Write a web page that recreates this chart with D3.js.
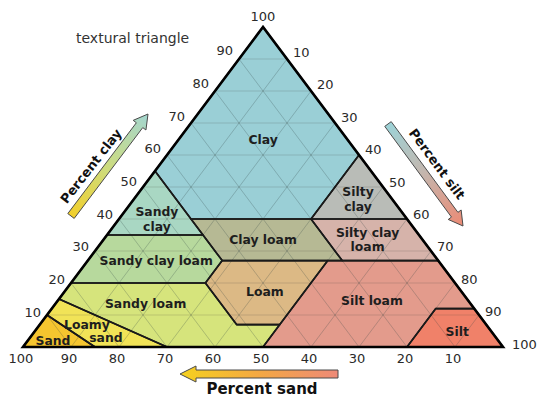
<!DOCTYPE html>
<html>
<head>
<meta charset="utf-8">
<script src="https://cdn.jsdelivr.net/npm/d3@7"></script>
<style>
  html, body { margin: 0; padding: 0; background: #fff; }
  svg { display: block; }
</style>
</head>
<body>
<svg id="chart" width="549" height="403"></svg>
<script>
// ---------- DATA ----------
// Soil texture classes (USDA); vertices as [sand, silt, clay] percentages
const regionNames = ["Clay", "Sandy clay", "Silty clay", "Clay loam", "Silty clay loam",
  "Sandy clay loam", "Loam", "Silt loam", "Silt", "Sandy loam", "Loamy sand", "Sand"];
const regionVertices = [
  [[0,0,100],[45,0,55],[45,15,40],[20,40,40],[0,40,60]],
  [[45,0,55],[65,0,35],[45,20,35],[45,15,40]],
  [[0,40,60],[20,40,40],[0,60,40]],
  [[45,15,40],[20,40,40],[20,53,27],[45,28,27]],
  [[20,40,40],[0,60,40],[0,73,27],[20,53,27]],
  [[65,0,35],[45,20,35],[45,28,27],[52,28,20],[80,0,20]],
  [[45,28,27],[23,50,27],[43,50,7],[52,41,7],[52,28,20]],
  [[23,50,27],[0,73,27],[0,88,12],[8,80,12],[20,80,0],[50,50,0],[43,50,7]],
  [[8,80,12],[0,88,12],[0,100,0],[20,80,0]],
  [[80,0,20],[52,28,20],[52,41,7],[43,50,7],[50,50,0],[70,30,0],[85,0,15]],
  [[85,0,15],[70,30,0],[85,15,0],[90,0,10]],
  [[90,0,10],[85,15,0],[100,0,0]]
];
const regionColors = ["#9acfd6","#a9d7c3","#b9bcb7","#b6b994","#d6b3aa",
  "#b7d99d","#dcb985","#e39b8c","#f08169","#d6e47c","#f1e357","#f5c52f"];
// label anchor of each class as [silt, clay]; multi-line labels split by "|"
const regionLabels = ["Clay","Sandy|clay","Silty|clay","Clay loam","Silty clay|loam",
  "Sandy clay loam","Loam","Silt loam","Silt","Sandy loam","Loamy|sand","Sand"];
const labelAnchors = [[17.7,64.7],[7.9,40],[46.7,46.2],[33.3,33.4],[55.0,33.6],
  [14.3,26.9],[41.8,17.2],[65.5,14.4],[88.1,4.7],[18.7,13.7],[12.7,5.0],[5.3,1.9]];
const tickValues = [10,20,30,40,50,60,70,80,90,100];
const gridValues = [10,20,30,40,50,60,70,80,90];

// ---------- SCALES ----------
const svg = d3.select("#chart");
const xScale = d3.scaleLinear().domain([0,100]).range([23,503]);   // silt + clay/2
const yScale = d3.scaleLinear().domain([0,100]).range([347,27]);   // clay
const P = (silt, clay) => [xScale(silt + clay/2), yScale(clay)];
const PV = v => P(v[1], v[2]);
const line = d3.line();

// ---------- DEFS (gradients) ----------
const defs = svg.append("defs");
function grad(id, x1,y1,x2,y2, stops){
  const g = defs.append("linearGradient").attr("id", id)
    .attr("gradientUnits","userSpaceOnUse")
    .attr("x1",x1).attr("y1",y1).attr("x2",x2).attr("y2",y2);
  stops.forEach(s => g.append("stop").attr("offset", s[0]).attr("stop-color", s[1]));
}

// ---------- REGIONS ----------
svg.append("g").selectAll("path").data(regionVertices).join("path")
  .attr("d", d => line(d.map(PV)) + "Z")
  .attr("fill", (d,i) => regionColors[i])
  .attr("stroke", "none");

// ---------- GRID ----------
const grid = svg.append("g").attr("fill","none");
gridValues.forEach(v => {
  // constant clay (horizontal)
  grid.append("path").attr("d", line([P(0,v), P(100-v,v)]))
    .attr("stroke","rgba(70,70,60,0.2)").attr("stroke-width",1.2);
  // constant silt
  grid.append("path").attr("d", line([P(v,0), P(v,100-v)]))
    .attr("stroke","rgba(50,70,70,0.33)").attr("stroke-width",0.8);
  // constant sand
  grid.append("path").attr("d", line([P(100-v,0), P(0,100-v)]))
    .attr("stroke","rgba(50,70,70,0.33)").attr("stroke-width",0.8);
});

// ---------- BOUNDARIES ----------
svg.append("g").selectAll("path").data(regionVertices).join("path")
  .attr("d", d => line(d.map(PV)) + "Z")
  .attr("fill", "none")
  .attr("stroke", "#1a1a1a")
  .attr("stroke-width", 1.6)
  .attr("stroke-linejoin","round");

svg.append("path")
  .attr("d", line([P(0,100), P(0,0), P(100,0)]) + "Z")
  .attr("fill","none").attr("stroke","#000").attr("stroke-width",2.6)
  .attr("stroke-linejoin","miter");

// ---------- REGION LABELS ----------
const lab = svg.append("g")
  .attr("font-family","'DejaVu Sans', Verdana, sans-serif")
  .attr("font-weight","bold").attr("font-size",12.4).attr("fill","#1e1e1e")
  .attr("text-anchor","middle");
regionLabels.forEach((t,i) => {
  const [cx, cy] = P(labelAnchors[i][0], labelAnchors[i][1]);
  const parts = t.split("|");
  const spacing = t === "Loamy|sand" ? 13 : 14.5;
  parts.forEach((p,k) => {
    let dx = 0;
    if (t === "Loamy|sand") dx = k === 0 ? -9 : 10;
    lab.append("text").attr("x", cx + dx)
      .attr("y", cy + (k - (parts.length-1)/2) * spacing)
      .attr("dy","0.35em").text(p);
  });
});

// ---------- TICK LABELS ----------
const tk = svg.append("g")
  .attr("font-family","'DejaVu Sans', Verdana, sans-serif")
  .attr("font-size",13).attr("fill","#2a2a2a");
// clay (left edge)
tickValues.forEach(v => {
  const [x,y] = P(0, v);
  if (v === 100) {
    tk.append("text").attr("x",x).attr("y",y-11).attr("dy","0.35em")
      .attr("text-anchor","middle").text(v);
  } else {
    tk.append("text").attr("x",x-6).attr("y",y-2-0.07*v).attr("dy","0.35em")
      .attr("text-anchor","end").text(v);
  }
});
// silt (right edge)
tickValues.forEach(v => {
  const [x,y] = P(v, 100-v);
  tk.append("text").attr("x",x + (v===100 ? 9 : 6)).attr("y",y-3-0.04*(100-v)).attr("dy","0.35em")
    .attr("text-anchor","start").text(v);
});
// sand (base)
tickValues.forEach(v => {
  const [x,y] = P(100-v, 0);
  tk.append("text").attr("x",x-2).attr("y",y+11).attr("dy","0.35em")
    .attr("text-anchor","middle").text(v);
});

// ---------- TITLE ----------
svg.append("text").attr("x",76).attr("y",43)
  .attr("font-family","'DejaVu Sans', Verdana, sans-serif")
  .attr("font-size",14).attr("fill","#333").text("textural triangle");

// ---------- ARROWS ----------
function arrow(id, tail, tip, stops, sw, hw, hl){
  grad(id, tail[0],tail[1],tip[0],tip[1], stops);
  const dx = tip[0]-tail[0], dy = tip[1]-tail[1];
  const L = Math.hypot(dx,dy), ux = dx/L, uy = dy/L, nx = -uy, ny = ux;
  const b = [tip[0]-ux*hl, tip[1]-uy*hl];
  const pts = [
    [tail[0]+nx*sw, tail[1]+ny*sw],
    [b[0]+nx*sw, b[1]+ny*sw],
    [b[0]+nx*hw, b[1]+ny*hw],
    tip,
    [b[0]-nx*hw, b[1]-ny*hw],
    [b[0]-nx*sw, b[1]-ny*sw],
    [tail[0]-nx*sw, tail[1]-ny*sw]
  ];
  svg.append("path").attr("d", line(pts)+"Z")
    .attr("fill",`url(#${id})`).attr("stroke","#4a4a4a").attr("stroke-width",1)
    .attr("stroke-linejoin","miter");
}
arrow("gClay",[71,216],[148,114],[[0,"#f2cf2a"],[0.45,"#cfdc7a"],[1,"#a3d6d0"]],4,8,14);
arrow("gSilt",[388,124],[463,226],[[0,"#9dd3d8"],[0.45,"#c2b8b0"],[1,"#ec8a74"]],4,8,14);
arrow("gSand",[338,374],[180,374],[[0,"#ee8a78"],[0.5,"#f4a843"],[1,"#f5d11e"]],4,8,16);

// ---------- AXIS NAMES ----------
const an = svg.append("g")
  .attr("font-family","'DejaVu Sans', Verdana, sans-serif")
  .attr("font-weight","bold").attr("fill","#111").attr("text-anchor","middle");
an.append("text").attr("transform","translate(91,166) rotate(-52)")
  .attr("font-size",13).attr("dy","0.35em").text("Percent clay");
an.append("text").attr("transform","translate(437,164) rotate(53.5)")
  .attr("font-size",13).attr("dy","0.35em").text("Percent silt");
an.append("text").attr("x",262).attr("y",389)
  .attr("font-size",15).attr("dy","0.35em").text("Percent sand");
</script>
</body>
</html>
